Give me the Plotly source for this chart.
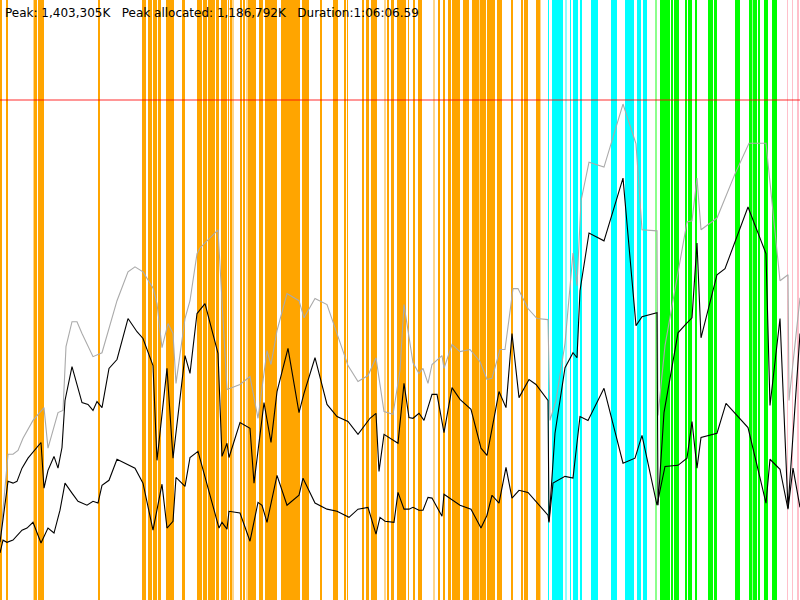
import plotly.graph_objects as go

# summary figures shown at the top
peak_k = 1403305
peak_alloc_k = 1186792
duration_txt = "1:06:06.59"

# time axis (seconds) and memory axis (MB)
t_max = 4000
mem_max = 1684

# phase stripes: (start s, end s)
orange_spans = [(0, 10), (30, 40), (170, 185), (190, 220), (490, 497), (710, 730), (740, 760),
                (765, 785), (790, 805), (830, 870), (910, 925), (985, 1010), (1015, 1035),
                (1040, 1075), (1080, 1095), (1105, 1135), (1140, 1145), (1150, 1160),
                (1200, 1210), (1215, 1225), (1240, 1280), (1295, 1315), (1325, 1385),
                (1405, 1500), (1510, 1545), (1600, 1610), (1665, 1690), (1720, 1730),
                (1735, 1740), (1810, 1820), (1830, 1845), (1855, 1885), (1935, 1945),
                (1955, 1970), (1985, 2030), (2040, 2045), (2065, 2075), (2090, 2110),
                (2190, 2200), (2215, 2225), (2240, 2255), (2260, 2300), (2315, 2345),
                (2360, 2395), (2398, 2430), (2435, 2475), (2485, 2510), (2555, 2565),
                (2605, 2615), (2620, 2640), (2680, 2700)]
orange_faint = [(165, 170), (1160, 1170), (1230, 1240), (1920, 1930), (2165, 2175), (2700, 2705)]
cyan_spans = [(2740, 2745), (2760, 2815), (2850, 2855), (2865, 2890), (2900, 2910),
              (2955, 2990), (3055, 3085), (3125, 3160), (3163, 3168), (3185, 3205), (3215, 3235)]
cyan_faint = [(2825, 2835)]
green_spans = [(3300, 3350), (3355, 3365), (3370, 3385), (3388, 3395), (3425, 3435),
               (3440, 3460), (3475, 3485), (3540, 3565), (3570, 3585), (3675, 3700),
               (3745, 3760), (3763, 3785), (3790, 3800), (3820, 3840), (3860, 3885)]
green_faint = [(3275, 3285)]
pink_spans = [(3935, 3940), (3960, 3965), (3985, 3995)]

# peak memory per sample
gray_t = [0, 40, 65, 90, 115, 165, 220, 240, 290, 315, 330, 360, 385, 410, 465, 510, 585, 640,
          675, 715, 765, 785, 810, 840, 865, 880, 925, 950, 985, 1000, 1090, 1135, 1200, 1250,
          1290, 1335, 1355, 1385, 1435, 1495, 1520, 1575, 1635, 1685, 1740, 1790, 1840, 1880,
          1920, 1965, 2000, 2020, 2065, 2095, 2115, 2140, 2160, 2210, 2220, 2260, 2300, 2350,
          2400, 2435, 2460, 2500, 2525, 2565, 2590, 2640, 2685, 2740, 2750, 2780, 2825, 2865,
          2885, 2905, 2945, 3020, 3115, 3180, 3210, 3285, 3290, 3325, 3435, 3460, 3485, 3505,
          3585, 3675, 3745, 3830, 3900, 3940, 3945, 4000]
gray_mb = [160, 409, 409, 420, 454, 504, 540, 426, 526, 532, 711, 781, 781, 748, 683, 694, 840, 921,
           935, 921, 876, 832, 708, 776, 748, 608, 790, 840, 972, 988, 1039, 591, 605, 627,
           510, 700, 661, 756, 860, 840, 792, 846, 829, 748, 658, 613, 630, 680,
           529, 521, 644, 829, 666, 636, 650, 608, 661, 686, 650, 717, 697, 703,
           669, 619, 622, 703, 703, 874, 874, 818, 790, 787, 504, 560, 720, 974,
           882, 1120, 1229, 1215, 1392, 1280, 1039, 1036, 518, 714, 1061, 1064, 1184, 1039,
           1072, 1196, 1282, 1282, 896, 913, 560, 848]

# allocated memory per sample
alloc_t = [0, 40, 65, 85, 110, 140, 205, 220, 240, 270, 290, 310, 325, 360, 410, 440, 465, 485,
           510, 545, 585, 640, 685, 715, 765, 785, 835, 865, 925, 950, 985, 1025, 1090, 1110,
           1135, 1145, 1200, 1250, 1270, 1320, 1355, 1385, 1440, 1495, 1520, 1575, 1635, 1685,
           1740, 1790, 1850, 1880, 1895, 1920, 1990, 2020, 2045, 2065, 2095, 2120, 2160, 2185,
           2220, 2260, 2300, 2355, 2405, 2435, 2495, 2530, 2560, 2595, 2645, 2680, 2740, 2745,
           2775, 2825, 2865, 2885, 2900, 2945, 3020, 3115, 3180, 3210, 3285, 3290, 3320, 3390,
           3435, 3460, 3485, 3505, 3585, 3625, 3740, 3830, 3850, 3900, 3940, 4000]
alloc_mb = [162, 333, 328, 333, 370, 398, 442, 314, 364, 403, 370, 428, 560, 655, 554, 549, 532, 557,
            540, 650, 675, 790, 753, 734, 658, 392, 650, 398, 686, 636, 804, 832, 692, 403,
            440, 400, 498, 482, 328, 554, 442, 585, 706, 526, 580, 680, 549, 515,
            501, 465, 510, 524, 361, 465, 440, 608, 512, 510, 524, 504, 577, 577,
            470, 596, 563, 535, 426, 406, 585, 540, 748, 568, 619, 605, 560, 221,
            468, 652, 694, 680, 868, 1030, 1008, 1184, 770, 795, 806, 266, 526, 750,
            778, 792, 1002, 736, 913, 930, 1103, 972, 546, 790, 258, 748]

# live memory per sample
live_t = [0, 15, 35, 65, 110, 135, 165, 205, 240, 270, 300, 325, 360, 390, 435, 465, 490, 510,
          545, 585, 675, 715, 765, 810, 835, 865, 880, 925, 950, 990, 1095, 1110, 1135, 1145,
          1200, 1250, 1290, 1310, 1335, 1385, 1435, 1495, 1515, 1575, 1635, 1685, 1745, 1790,
          1840, 1880, 1900, 1925, 1970, 1990, 2020, 2045, 2065, 2095, 2115, 2140, 2160, 2210,
          2220, 2300, 2355, 2405, 2435, 2460, 2495, 2530, 2560, 2595, 2640, 2685, 2740, 2745,
          2765, 2825, 2865, 2900, 2940, 3020, 3115, 3175, 3210, 3285, 3325, 3390, 3435, 3460,
          3485, 3505, 3585, 3630, 3740, 3830, 3850, 3900, 3940, 3965, 4000]
live_mb = [132, 168, 162, 168, 196, 202, 218, 160, 202, 188, 252, 328, 300, 277, 266, 277, 272, 322,
           336, 395, 370, 328, 196, 325, 202, 221, 344, 319, 400, 417, 202, 218, 199, 249,
           244, 165, 274, 266, 218, 350, 266, 294, 342, 272, 255, 249, 232, 255,
           260, 185, 232, 221, 218, 302, 255, 255, 260, 252, 252, 288, 286, 235,
           297, 266, 255, 202, 238, 294, 272, 372, 286, 308, 302, 274, 238, 218,
           328, 347, 342, 515, 504, 594, 384, 398, 462, 266, 375, 378, 398, 501,
           370, 456, 468, 552, 484, 272, 395, 367, 255, 370, 260]


def stripe_trace(spans, color, opacity):
    centers = [(a + b) / 2 for a, b in spans]
    widths = [b - a for a, b in spans]
    return go.Bar(x=centers, y=[mem_max] * len(spans), width=widths, base=0,
                  marker=dict(color=color, line=dict(width=0)), opacity=opacity,
                  hoverinfo="skip")


fig = go.Figure()
fig.add_trace(stripe_trace(orange_spans, "#FFA500", 1))
fig.add_trace(stripe_trace(orange_faint, "#FFA500", 0.45))
fig.add_trace(stripe_trace(cyan_spans, "#00FFFF", 1))
fig.add_trace(stripe_trace(cyan_faint, "#00FFFF", 0.45))
fig.add_trace(stripe_trace(green_spans, "#00FF00", 1))
fig.add_trace(stripe_trace(green_faint, "#00FF00", 0.45))
fig.add_trace(stripe_trace(pink_spans, "#FFC0CB", 1))

# peak line
fig.add_trace(go.Scatter(x=[0, t_max], y=[peak_k / 1000] * 2, mode="lines",
                         line=dict(color="rgba(255,0,0,0.55)", width=1.5)))

fig.add_trace(go.Scatter(x=gray_t, y=gray_mb, mode="lines",
                         line=dict(color="#aaaaaa", width=1.1)))
fig.add_trace(go.Scatter(x=alloc_t, y=alloc_mb, mode="lines",
                         line=dict(color="black", width=1.1)))
fig.add_trace(go.Scatter(x=live_t, y=live_mb, mode="lines",
                         line=dict(color="black", width=1.1)))

nb = "\u00a0"
title = (f"Peak: {peak_k:,}K" + nb * 3 + f"Peak allocated: {peak_alloc_k:,}K" + nb * 3
         + f"Duration:{duration_txt}")
fig.add_annotation(text=title, xref="paper", yref="paper", x=0, y=1, xanchor="left",
                   yanchor="top", xshift=3, yshift=-4, showarrow=False,
                   font=dict(family="DejaVu Sans", size=12, color="black"))

fig.update_layout(width=800, height=600, margin=dict(l=0, r=0, t=0, b=0),
                  plot_bgcolor="white", paper_bgcolor="white", showlegend=False,
                  barmode="overlay")
fig.update_xaxes(range=[0, t_max], visible=False)
fig.update_yaxes(range=[0, mem_max], visible=False)

# drop the page's default body margin so the chart fills the window
fig.write_html("out.html", config={"displayModeBar": False},
               post_script="document.body.style.margin='0';"
                           "document.body.style.overflow='hidden';")
